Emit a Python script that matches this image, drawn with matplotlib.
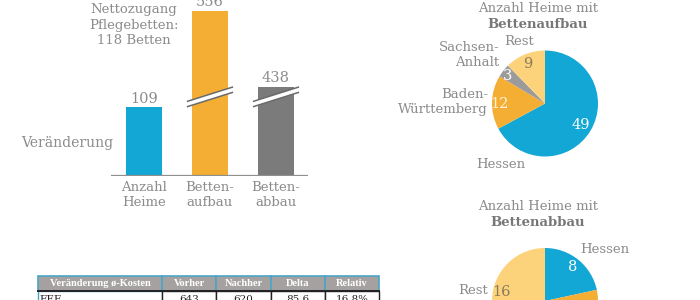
import matplotlib

matplotlib.use("Agg")
import matplotlib.pyplot as plt
from matplotlib.patches import Polygon, Rectangle

# ─────────────────────────────────────────────────────────────
# Daten
# ─────────────────────────────────────────────────────────────
bar_labels = ["Anzahl\nHeime", "Betten-\naufbau", "Betten-\nabbau"]
bar_values = [109, 556, 438]
bar_shown = [109, 261, 141]  # gebrochene Achse: dargestellte Höhe
bar_broken = [False, True, True]
bar_colors = ["#12a7d5", "#f5ae34", "#7b7b7b"]

pie1_labels = ["Hessen", "Baden-\nWürttemberg", "Sachsen-\nAnhalt", "Rest"]
pie1_values = [49, 12, 3, 9]
pie2_labels = ["Hessen", "Baden-\nWürttemberg", "Sachsen-\nAnhalt", "Rest"]
pie2_values = [8, 10, 3, 16]
pie_colors = ["#12a7d5", "#f5ae34", "#9b9b9b", "#fcd27b"]

table_header = ["Veränderung ø-Kosten", "Vorher", "Nachher", "Delta", "Relativ"]
table_row = ["EEE", "643", "620", "85,6", "16,8%"]

GRAY = "#8c8c8c"
plt.rcParams["font.family"] = ["DejaVu Serif"]
plt.rcParams["font.size"] = 9.5

W, H = 700, 300
fig = plt.figure(figsize=(7, 3), dpi=100)


def px_axes(x0, y0, x1, y1, **kw):
    # Achse in Pixelkoordinaten (oben links = 0,0)
    return fig.add_axes([x0 / W, 1 - y1 / H, (x1 - x0) / W, (y1 - y0) / H], **kw)


# ─────────────────────────────────────────────────────────────
# Balkendiagramm
# ─────────────────────────────────────────────────────────────
ax = px_axes(111, 0, 308, 176)
ax.set_xlim(-0.5, 2.485)
ax.set_ylim(0, 278)
ax.axis("off")
xs = range(len(bar_values))
ax.bar(xs, bar_shown, width=0.56, color=bar_colors, zorder=2)
ax.axhline(0, color="#8f8f8f", lw=1.6, zorder=3)
for x, shown, val, lab in zip(xs, bar_shown, bar_values, bar_labels):
    ax.text(x, shown + 2, str(val), ha="center", va="bottom", color=GRAY,
            fontsize=10.5, clip_on=False)
    ax.text(x, -8, lab, ha="center", va="top", color=GRAY, fontsize=9.5,
            linespacing=1.2, clip_on=False)

# Achsenbruch-Markierungen
for x, broken in zip(xs, bar_broken):
    if not broken:
        continue
    yc, dx, dy, gap = 125, 0.35, 11.5, 4.2
    band = Polygon([(x - dx, yc - dy - gap), (x + dx, yc + dy - gap),
                    (x + dx, yc + dy + gap), (x - dx, yc - dy + gap)],
                   closed=True, facecolor="white", edgecolor="none", zorder=4,
                   clip_on=False)
    ax.add_patch(band)
    for g in (-gap, gap):
        ax.plot([x - dx, x + dx], [yc - dy + g, yc + dy + g], color="#6a6a6a",
                lw=1.1, zorder=5, clip_on=False, solid_capstyle="butt")

fig.text(134 / W, 1 - 25 / H, "Nettozugang\nPflegebetten:\n118 Betten",
         ha="center", va="center", color=GRAY, fontsize=9.5, linespacing=1.3)
fig.text(113 / W, 1 - 143 / H, "Veränderung", ha="right", va="center",
         color=GRAY, fontsize=10)

# ─────────────────────────────────────────────────────────────
# Kreisdiagramme
# ─────────────────────────────────────────────────────────────
R = 53


def draw_pie(cx, cy, values):
    a = px_axes(cx - R, cy - R, cx + R, cy + R)
    a.pie(values, colors=pie_colors, startangle=90, counterclock=False,
          radius=1, wedgeprops=dict(linewidth=0))
    a.set_xlim(-1, 1)
    a.set_ylim(-1, 1)
    a.set_aspect("equal")
    a.axis("off")
    return a


def to_pie(cx, cy, x, y):
    return ((x - cx) / R, (cy - y) / R)


# Kreis 1: Bettenaufbau
cx1, cy1 = 545, 103.5
ap1 = draw_pie(cx1, cy1, pie1_values)
pie1_num_pos = [(581, 125), (499, 104), (508, 76), (528, 64)]
pie1_num_col = ["white", "#fdf3dc", "white", "#8a7b5c"]
for v, (x, y), c in zip(pie1_values, pie1_num_pos, pie1_num_col):
    ap1.text(*to_pie(cx1, cy1, x, y), str(v), ha="center", va="center",
             color=c, fontsize=10.5, clip_on=False)
pie1_lab_pos = [(501, 165, "center"), (488, 102, "right"),
                (499, 55, "right"), (519, 42, "center")]
for lab, (x, y, ha) in zip(pie1_labels, pie1_lab_pos):
    ap1.text(*to_pie(cx1, cy1, x, y), lab, ha=ha, va="center", color=GRAY,
             fontsize=9.5, linespacing=1.2, clip_on=False)
fig.text(538 / W, 1 - 8 / H, "Anzahl Heime mit", ha="center", va="center",
         color=GRAY, fontsize=9.5)
fig.text(538 / W, 1 - 25 / H, "Bettenaufbau", ha="center", va="center",
         color="#777777", fontsize=9.5, fontweight="bold")

# Kreis 2: Bettenabbau
cx2, cy2 = 545, 301
ap2 = draw_pie(cx2, cy2, pie2_values)
pie2_num_pos = [(573, 267), None, None, (501, 292)]
pie2_num_col = ["white", "white", "white", "#8a7b5c"]
for v, pos, c in zip(pie2_values, pie2_num_pos, pie2_num_col):
    if pos is None:
        continue
    ap2.text(*to_pie(cx2, cy2, *pos), str(v), ha="center", va="center",
             color=c, fontsize=10.5, clip_on=False)
pie2_lab_pos = [(580, 250, "left"), None, None, (488, 290, "right")]
for lab, pos in zip(pie2_labels, pie2_lab_pos):
    if pos is None:
        continue
    x, y, ha = pos
    ap2.text(*to_pie(cx2, cy2, x, y), lab, ha=ha, va="center", color=GRAY,
             fontsize=9.5, clip_on=False)
fig.text(538 / W, 1 - 206 / H, "Anzahl Heime mit", ha="center", va="center",
         color=GRAY, fontsize=9.5)
fig.text(538 / W, 1 - 222 / H, "Bettenabbau", ha="center", va="center",
         color="#777777", fontsize=9.5, fontweight="bold")

# ─────────────────────────────────────────────────────────────
# Tabelle (angeschnitten)
# ─────────────────────────────────────────────────────────────
at = fig.add_axes([0, 0, 1, 1], zorder=-1)
at.set_xlim(0, W)
at.set_ylim(H, 0)
at.axis("off")
col_edges = [38, 162, 216, 271, 325, 379]
hy0, hy1, ry1 = 276, 291, 306
for i, (txt, val) in enumerate(zip(table_header, table_row)):
    x0, x1 = col_edges[i], col_edges[i + 1]
    at.add_patch(Rectangle((x0, hy0), x1 - x0, hy1 - hy0, facecolor="#a4a1a0",
                           edgecolor="#4aa6c6", lw=1.2))
    at.add_patch(Rectangle((x0, hy1), x1 - x0, ry1 - hy1, facecolor="white",
                           edgecolor="#222222" if i else "#4aa6c6", lw=1.0))
    at.text((x0 + x1) / 2, (hy0 + hy1) / 2 + 0.5, txt, ha="center", va="center",
            color="white", fontsize=7.5, fontweight="bold",
            family="Liberation Serif")
    if i == 0:
        at.text(x0 + 1.5, 302, val, ha="left", va="baseline", color="#222222",
                fontsize=7.5)
    else:
        at.text((x0 + x1) / 2, 302, val, ha="center", va="baseline",
                color="#222222", fontsize=7.5)
at.plot([col_edges[0], col_edges[-1]], [hy1, hy1], color="#222222", lw=1.4)

fig.savefig("out.png", dpi=100)
